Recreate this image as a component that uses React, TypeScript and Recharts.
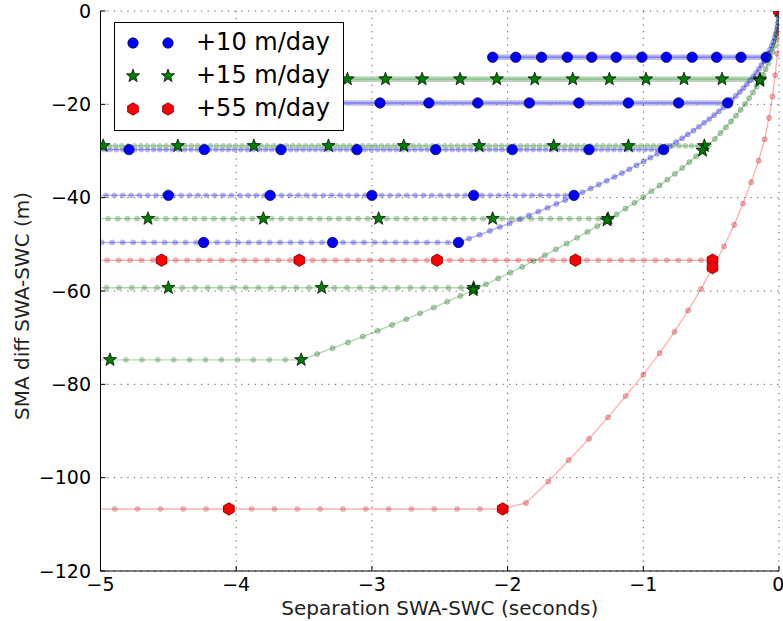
import React from 'react';
import { ComposedChart, Line, Scatter, XAxis, YAxis, CartesianGrid, Legend } from 'recharts';

const seriesNames = ['+10 m/day', '+15 m/day', '+55 m/day'];
const xTicks = [-5, -4, -3, -2, -1, 0];
const yTicks = [-120, -100, -80, -60, -40, -20, 0];

// +10 m/day (blue)
const blueCurve: [number, number][] = [
  [0, 0], [-0.001, -0.83], [-0.003, -1.65], [-0.006, -2.48], [-0.010, -3.31], [-0.016, -4.13], [-0.024, -4.96],
  [-0.032, -5.79], [-0.042, -6.61], [-0.053, -7.44], [-0.066, -8.27], [-0.079, -9.09], [-0.094, -9.92],
  [-0.111, -10.75], [-0.129, -11.57], [-0.148, -12.40], [-0.168, -13.23], [-0.190, -14.05], [-0.213, -14.88],
  [-0.237, -15.71], [-0.262, -16.53], [-0.289, -17.36], [-0.318, -18.19], [-0.347, -19.01], [-0.378, -19.84],
  [-0.410, -20.67], [-0.443, -21.49], [-0.478, -22.32], [-0.514, -23.15], [-0.552, -23.97], [-0.590, -24.80],
  [-0.630, -25.63], [-0.672, -26.45], [-0.714, -27.28], [-0.758, -28.11], [-0.804, -28.93], [-0.850, -29.76],
  [-0.898, -30.59], [-0.947, -31.41], [-0.998, -32.24], [-1.050, -33.07], [-1.103, -33.89], [-1.157, -34.72],
  [-1.213, -35.55], [-1.270, -36.37], [-1.328, -37.20], [-1.388, -38.03], [-1.449, -38.85], [-1.511, -39.68],
  [-1.575, -40.51], [-1.640, -41.33], [-1.706, -42.16], [-1.774, -42.99], [-1.843, -43.81], [-1.913, -44.64],
  [-1.984, -45.47], [-2.057, -46.29], [-2.131, -47.12], [-2.207, -47.95], [-2.284, -48.77], [-2.362, -49.60],
];
const blueLevels = [-9.9, -19.7, -29.7, -39.5, -49.6];
const blueLineEnds = [-2.11, -4.05, -5, -5, -5];
const blueMarks = [
  [-0.094, -0.28, -0.46, -0.64, -0.83, -1.01, -1.20, -1.38, -1.56, -1.75, -1.94, -2.11],
  [-0.378, -0.74, -1.11, -1.475, -1.84, -2.22, -2.58, -2.94, -3.31, -3.68, -4.05],
  [-0.85, -1.40, -1.965, -2.53, -3.11, -3.67, -4.235, -4.79],
  [-1.511, -2.25, -3.00, -3.75, -4.50],
  [-2.362, -3.29, -4.24],
];
const blueCurveMarks: [number, number][] = [[0, 0]];

// +15 m/day (green)
const greenCurve: [number, number][] = [
  [0, 0], [-0.001, -1.25], [-0.004, -2.49], [-0.009, -3.74], [-0.016, -4.98], [-0.024, -6.23], [-0.035, -7.47],
  [-0.048, -8.72], [-0.063, -9.97], [-0.079, -11.21], [-0.098, -12.46], [-0.118, -13.70], [-0.141, -14.95],
  [-0.165, -16.20], [-0.192, -17.44], [-0.220, -18.69], [-0.250, -19.93], [-0.283, -21.18], [-0.317, -22.42],
  [-0.353, -23.67], [-0.391, -24.92], [-0.431, -26.16], [-0.473, -27.41], [-0.517, -28.65], [-0.563, -29.90],
  [-0.611, -31.15], [-0.661, -32.39], [-0.713, -33.64], [-0.767, -34.88], [-0.823, -36.13], [-0.880, -37.37],
  [-0.940, -38.62], [-1.001, -39.87], [-1.065, -41.11], [-1.131, -42.36], [-1.198, -43.60], [-1.267, -44.85],
  [-1.339, -46.09], [-1.412, -47.34], [-1.488, -48.59], [-1.565, -49.83], [-1.644, -51.08], [-1.725, -52.32],
  [-1.808, -53.57], [-1.893, -54.82], [-1.980, -56.06], [-2.069, -57.31], [-2.160, -58.55], [-2.253, -59.80],
  [-2.348, -61.04], [-2.445, -62.29], [-2.544, -63.54], [-2.645, -64.78], [-2.747, -66.03], [-2.852, -67.27],
  [-2.958, -68.52], [-3.067, -69.76], [-3.177, -71.01], [-3.290, -72.26], [-3.404, -73.50], [-3.521, -74.75],
];
const greenLevels = [-14.6, -28.9, -44.5, -59.3, -74.75];
const greenLineEnds = [-3.18, -5, -5, -5, -5];
const greenMarks = [
  [-0.14, -0.42, -0.70, -0.98, -1.25, -1.52, -1.80, -2.08, -2.35, -2.63, -2.90, -3.18],
  [-0.55, -1.11, -1.66, -2.21, -2.765, -3.32, -3.87, -4.43, -4.98],
  [-1.26, -2.11, -2.95, -3.80, -4.65],
  [-2.25, -3.37, -4.50],
  [-3.521, -4.93],
];
const greenCurveMarks: [number, number][] = [[0, 0], [-0.141, -14.95], [-0.563, -29.9], [-1.267, -44.85], [-2.253, -59.8]];

// +55 m/day (red)
const redCurve: [number, number][] = [
  [0, 0], [-0.003, -4.58], [-0.012, -9.17], [-0.028, -13.75], [-0.048, -18.33], [-0.074, -22.92], [-0.106, -27.5],
  [-0.150, -32.08], [-0.205, -36.67], [-0.265, -41.25], [-0.330, -45.83], [-0.405, -50.42], [-0.49, -55.0],
  [-0.575, -59.58], [-0.67, -64.17], [-0.77, -68.75], [-0.88, -73.33], [-1.00, -77.92], [-1.13, -82.5],
  [-1.26, -87.08], [-1.40, -91.67], [-1.55, -96.25], [-1.70, -100.83], [-1.864, -105.42], [-2.036, -106.7],
];
const redLevels = [-53.4, -106.7];
const redLineEnds = [-5, -5];
const redMarks = [
  [-0.49, -1.50, -2.52, -3.535, -4.55],
  [-2.036, -4.054],
];
const redCurveMarks: [number, number][] = [[0, 0], [-0.49, -55.0]];

// ---- layout / style ----
const W = 783;
const H = 621;
const PLOT_LEFT = 100.5;
const PLOT_RIGHT = 779;
const PLOT_TOP = 11;
const PLOT_BOTTOM = 571;
const PX_PER_X = (PLOT_RIGHT - PLOT_LEFT) / 5;
const FONT = 'DejaVu Sans, Verdana, sans-serif';
const YLABEL_CY = 306;

type Pt = { x: number; y: number };
const toPts = (arr: [number, number][]): Pt[] => arr.map(([x, y]) => ({ x, y }));

const colors = [
  { main: '#0000ff', light: '#b4b4ff', edge: '#00004a', marker: 'circle' },
  { main: '#008000', light: '#b4dab4', edge: '#002200', marker: 'star' },
  { main: '#ff0000', light: '#ffb4b4', edge: '#6a0000', marker: 'hex' },
];

function markerShape(kind: string, cx: number, cy: number, fill: string, edge: string, key?: string) {
  if (kind === 'circle') {
    return <circle key={key} cx={cx} cy={cy} r={5.2} fill={fill} stroke={edge} strokeWidth={0.7} />;
  }
  if (kind === 'star') {
    const R = 7;
    const r = 2.9;
    const pts: string[] = [];
    for (let i = 0; i < 10; i++) {
      const a = -Math.PI / 2 + (i * Math.PI) / 5;
      const rad = i % 2 === 0 ? R : r;
      pts.push(`${cx + rad * Math.cos(a)},${cy + rad * Math.sin(a)}`);
    }
    return <polygon key={key} points={pts.join(' ')} fill={fill} stroke="#000" strokeWidth={0.7} />;
  }
  const R = 6.2;
  const pts: string[] = [];
  for (let i = 0; i < 6; i++) {
    const a = -Math.PI / 2 + (i * Math.PI) / 3;
    pts.push(`${cx + R * Math.cos(a)},${cy + R * Math.sin(a)}`);
  }
  return <polygon key={key} points={pts.join(' ')} fill={fill} stroke={edge} strokeWidth={0.8} />;
}

const minus = (v: number) => (v < 0 ? '\u2212' + Math.abs(v) : String(v));
const NoTick = () => <g />;

function buildGroup(
  gi: number,
  curve: [number, number][],
  levels: number[],
  ends: number[],
  marks: number[][],
  curveMarks: [number, number][],
) {
  const c = colors[gi];
  const els: React.ReactNode[] = [];
  const curveDot = (p: any) => (
    <circle
      key={`cd-${gi}-${p.index}`}
      cx={p.cx}
      cy={p.cy}
      r={2.6}
      fill={c.main}
      fillOpacity={0.3}
      stroke="#000"
      strokeOpacity={0.3}
      strokeWidth={0.6}
    />
  );
  levels.forEach((lvl, i) => {
    const seg: Pt[] = [
      { x: marks[i][0], y: lvl },
      { x: ends[i], y: lvl },
    ];
    const gap = (Math.abs(marks[i][1] - marks[i][0]) / 12) * PX_PER_X;
    els.push(
      <Line key={`ring-${gi}-${i}`} data={seg} dataKey="y" type="linear" stroke="#000" strokeOpacity={0.22}
        strokeWidth={5.8} strokeLinecap="round" strokeDasharray={`0 ${gap}`} dot={false} activeDot={false}
        isAnimationActive={false} legendType="none" />,
    );
    els.push(
      <Line key={`fill-${gi}-${i}`} data={seg} dataKey="y" type="linear" stroke={c.light} strokeOpacity={1}
        strokeWidth={4.4} strokeLinecap="round" strokeDasharray={`0 ${gap}`} dot={false} activeDot={false}
        isAnimationActive={false} legendType="none" />,
    );
    els.push(
      <Line key={`thin-${gi}-${i}`} data={seg} dataKey="y" type="linear" stroke={c.main} strokeOpacity={0.3}
        strokeWidth={1.4} dot={false} activeDot={false} isAnimationActive={false} legendType="none" />,
    );
  });
  els.push(
    <Line key={`curve-${gi}`} data={toPts(curve)} dataKey="y" type="linear" stroke={c.main} strokeOpacity={0.3}
      strokeWidth={1.4} dot={curveDot} activeDot={false} isAnimationActive={false} legendType="none" />,
  );
  const bigPts: Pt[] = [];
  levels.forEach((lvl, i) => marks[i].forEach((x) => bigPts.push({ x, y: lvl })));
  curveMarks.forEach(([x, y]) => bigPts.push({ x, y }));
  els.push(
    <Scatter key={`big-${gi}`} name={seriesNames[gi]} data={bigPts} dataKey="y" isAnimationActive={false}
      legendType="none"
      shape={(p: any) => markerShape(c.marker, p.cx, p.cy, c.main, c.edge)} />,
  );
  return els;
}

const LegendBox = () => (
  <div
    style={{
      width: 228,
      height: 107,
      border: '1px solid #000',
      background: '#fff',
      position: 'relative',
      fontFamily: FONT,
    }}
  >
    {seriesNames.map((name, i) => (
      <div key={name} style={{ position: 'absolute', left: 0, top: 2.5 + i * 33.3, height: 33, width: 228 }}>
        <svg width={80} height={33} style={{ position: 'absolute', left: 0, top: 0 }}>
          {markerShape(colors[i].marker, 18, 17, colors[i].main, colors[i].edge, 'a')}
          {markerShape(colors[i].marker, 53, 17, colors[i].main, colors[i].edge, 'b')}
        </svg>
        <span
          style={{
            position: 'absolute',
            left: 81,
            top: 0,
            lineHeight: '33px',
            fontSize: 24,
            color: '#000',
            whiteSpace: 'nowrap',
          }}
        >
          {name}
        </span>
      </div>
    ))}
  </div>
);

const tickStyle = { fill: '#000', fontSize: 19, fontFamily: FONT };

export default function App() {
  return (
    <div style={{ position: 'fixed', left: 0, top: 0, width: W, height: H, background: '#fff' }}>
      <ComposedChart
        width={W}
        height={H}
        margin={{ top: PLOT_TOP, right: W - PLOT_RIGHT, bottom: 0, left: 0 }}
        style={{ fontFamily: FONT }}
      >
        <CartesianGrid stroke="#000" strokeOpacity={0.75} strokeWidth={0.9} strokeDasharray="1.2 5.5" />
        <XAxis
          dataKey="x"
          type="number"
          domain={[-5, 0]}
          ticks={xTicks}
          allowDataOverflow
          height={H - PLOT_BOTTOM}
          tickSize={-5}
          tickMargin={12}
          tick={tickStyle}
          tickFormatter={minus}
          axisLine={{ stroke: '#000', strokeWidth: 1 }}
          tickLine={{ stroke: '#000', strokeWidth: 1 }}
          label={(p: any) => {
            const vb = p.viewBox || { x: PLOT_LEFT, y: PLOT_BOTTOM, width: PLOT_RIGHT - PLOT_LEFT };
            return (
              <text x={vb.x + vb.width / 2} y={608} textAnchor="middle" dominantBaseline="central"
                fontSize={20} fontFamily={FONT} fill="#222">
                Separation SWA-SWC (seconds)
              </text>
            );
          }}
        />
        <XAxis
          xAxisId="top"
          orientation="top"
          type="number"
          domain={[-5, 0]}
          ticks={xTicks}
          allowDataOverflow
          height={0}
          tickSize={-5}
          tick={NoTick}
          axisLine={{ stroke: '#000', strokeWidth: 1 }}
          tickLine={{ stroke: '#000', strokeWidth: 1 }}
        />
        <YAxis
          dataKey="y"
          type="number"
          domain={[-120, 0]}
          ticks={yTicks}
          allowDataOverflow
          width={PLOT_LEFT}
          tickSize={-5}
          tickMargin={14.5}
          tick={tickStyle}
          tickFormatter={minus}
          axisLine={{ stroke: '#000', strokeWidth: 1 }}
          tickLine={{ stroke: '#000', strokeWidth: 1 }}
          label={() => (
            <text x={22} y={YLABEL_CY} transform={`rotate(-90 22 ${YLABEL_CY})`}
              textAnchor="middle" dominantBaseline="central" fontSize={20} fontFamily={FONT} fill="#222">
              SMA diff SWA-SWC (m)
            </text>
          )}
        />
        <YAxis
          yAxisId="right"
          orientation="right"
          type="number"
          domain={[-120, 0]}
          ticks={yTicks}
          allowDataOverflow
          width={0}
          tickSize={-5}
          tick={NoTick}
          axisLine={{ stroke: '#000', strokeWidth: 1 }}
          tickLine={{ stroke: '#000', strokeWidth: 1 }}
        />
        {buildGroup(0, blueCurve, blueLevels, blueLineEnds, blueMarks, blueCurveMarks)}
        {buildGroup(1, greenCurve, greenLevels, greenLineEnds, greenMarks, greenCurveMarks)}
        {buildGroup(2, redCurve, redLevels, redLineEnds, redMarks, redCurveMarks)}
        <Legend
          layout="vertical"
          align="center"
          verticalAlign="middle"
          wrapperStyle={{ left: 114, top: 22, width: 230, height: 109 }}
          content={() => <LegendBox />}
        />
      </ComposedChart>
    </div>
  );
}
